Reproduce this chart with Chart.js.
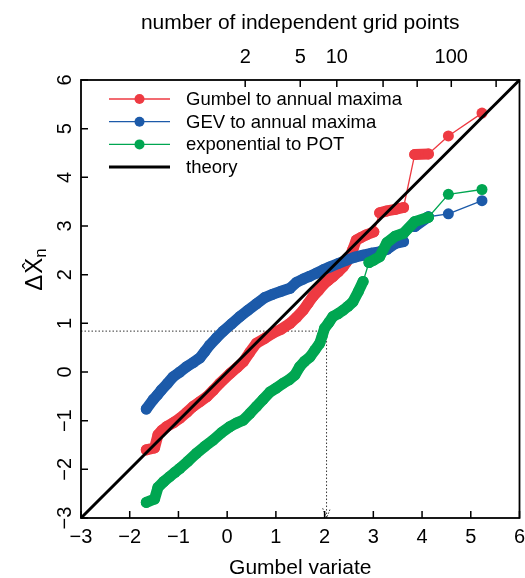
<!DOCTYPE html>
<html>
<head>
<meta charset="utf-8">
<script src="https://cdn.jsdelivr.net/npm/chart.js@4.4.1/dist/chart.umd.min.js"></script>
<style>
  html, body { margin: 0; padding: 0; background: #fff; }
  #wrap { width: 525px; height: 578px; }
</style>
</head>
<body>
<div id="wrap"><canvas id="gumbelPlot" width="525" height="578"></canvas></div>
<script>
const fontFamily = "'Liberation Sans', Arial, Helvetica, sans-serif";

// Gumbel to annual maxima (red)
const gumbelX = [-1.66, -1.49, -1.42, -1.34, -1.24, -1.10, -0.97, -0.83, -0.70, -0.56, -0.42, -0.28, -0.15, 0.06, 0.20, 0.33, 0.46, 0.60, 0.77, 0.94, 1.11, 1.29, 1.42, 1.56, 1.66, 1.76, 1.87, 1.97, 2.07, 2.17, 2.28, 2.38, 2.45, 2.52, 2.58, 2.65, 2.76, 2.86, 3.01, 3.13, 3.28, 3.45, 3.62, 3.85, 4.13, 4.54, 5.23];
const gumbelY = [-1.60, -1.56, -1.29, -1.20, -1.12, -1.04, -0.95, -0.83, -0.71, -0.61, -0.51, -0.37, -0.23, -0.03, 0.09, 0.21, 0.40, 0.59, 0.69, 0.80, 0.88, 1.00, 1.12, 1.27, 1.41, 1.55, 1.67, 1.79, 1.88, 1.96, 2.06, 2.16, 2.26, 2.37, 2.52, 2.71, 2.77, 2.82, 2.88, 3.27, 3.31, 3.34, 3.38, 4.47, 4.48, 4.85, 5.32];

// GEV to annual maxima (blue)
const gevX = [-1.66, -1.52, -1.43, -1.35, -1.23, -1.11, -0.97, -0.83, -0.69, -0.56, -0.46, -0.36, -0.22, -0.08, 0.09, 0.26, 0.43, 0.60, 0.77, 0.94, 1.11, 1.29, 1.42, 1.56, 1.70, 1.83, 1.97, 2.11, 2.28, 2.45, 2.62, 2.79, 2.96, 3.13, 3.28, 3.45, 3.62, 3.85, 4.13, 4.54, 5.23];
const gevY = [-0.76, -0.57, -0.47, -0.37, -0.24, -0.10, 0.00, 0.11, 0.20, 0.29, 0.42, 0.55, 0.70, 0.84, 0.99, 1.14, 1.27, 1.40, 1.53, 1.60, 1.66, 1.72, 1.84, 1.91, 1.97, 2.03, 2.10, 2.16, 2.23, 2.30, 2.36, 2.40, 2.44, 2.47, 2.52, 2.64, 2.68, 2.99, 3.19, 3.25, 3.52];

// exponential to POT (green)
const expX = [-1.66, -1.49, -1.42, -1.30, -1.18, -1.07, -0.97, -0.80, -0.63, -0.46, -0.29, -0.12, 0.06, 0.19, 0.33, 0.47, 0.60, 0.74, 0.88, 1.01, 1.15, 1.27, 1.39, 1.49, 1.59, 1.70, 1.80, 1.90, 1.95, 2.00, 2.09, 2.17, 2.28, 2.38, 2.48, 2.58, 2.69, 2.79, 2.91, 3.01, 3.13, 3.28, 3.45, 3.62, 3.85, 4.13, 4.54, 5.23];
const expY = [-2.68, -2.61, -2.37, -2.25, -2.15, -2.06, -1.98, -1.83, -1.67, -1.53, -1.40, -1.25, -1.12, -1.05, -0.99, -0.85, -0.71, -0.56, -0.41, -0.33, -0.23, -0.16, -0.06, 0.11, 0.22, 0.31, 0.45, 0.59, 0.74, 0.90, 1.02, 1.14, 1.20, 1.27, 1.35, 1.44, 1.65, 1.86, 2.25, 2.30, 2.37, 2.66, 2.79, 2.85, 3.09, 3.18, 3.65, 3.75];

const theoryX = [-3, 6];
const theoryY = [-3, 6];

const axisTicks = [-3, -2, -1, 0, 1, 2, 3, 4, 5, 6];
// top axis: grid point counts placed on the Gumbel scale
const topTickPos = [0.37, 1.50, 2.25, 3.20, 3.90, 4.60, 5.52];
const topTickLabels = ["2", "5", "10", "", "", "100", ""];

// dotted read-off guide
const guideX = 2.04;
const guideY = 0.84;

const red = "#EE3A42";
const blue = "#1C5AA9";
const green = "#00A651";

const toPoints = (xs, ys) => xs.map((x, i) => ({ x, y: ys[i] }));
const minus = (v) => String(v).replace("-", "\u2212");

// close points merge into one thick band, spread ones get a thin joining line
const beadWidth = (ctx) => {
  const d = Math.hypot(ctx.p1.x - ctx.p0.x, ctx.p1.y - ctx.p0.y);
  return d < 18 ? 11 : 1.3;
};

const beads = (label, xs, ys, color, order) => ({
  label,
  data: toPoints(xs, ys),
  showLine: true,
  borderColor: color,
  backgroundColor: color,
  borderWidth: 1.3,
  borderCapStyle: "round",
  borderJoinStyle: "round",
  pointRadius: 5.5,
  pointBorderWidth: 0,
  pointBackgroundColor: color,
  segment: { borderWidth: beadWidth },
  order,
});

// keep the plot box fixed, labels may hang over the edges
const fixX = (h) => (s) => {
  s.height = h;
  s.paddingLeft = 0;
  s.paddingRight = 0;
};

const frame = {
  id: "frame",
  beforeDraw(chart) {
    const { ctx } = chart;
    ctx.save();
    ctx.fillStyle = "#fff";
    ctx.fillRect(0, 0, chart.width, chart.height);
    ctx.restore();
  },
  afterDraw(chart) {
    const { ctx, chartArea: a, scales } = chart;
    ctx.save();
    ctx.strokeStyle = "#000";
    ctx.lineWidth = 1.8;
    ctx.strokeRect(a.left, a.top, a.right - a.left, a.bottom - a.top);

    // inward tick marks
    ctx.lineWidth = 1.5;
    ctx.beginPath();
    axisTicks.forEach((v) => {
      const px = scales.x.getPixelForValue(v);
      ctx.moveTo(px, a.bottom);
      ctx.lineTo(px, a.bottom - 7);
      const py = scales.y.getPixelForValue(v);
      ctx.moveTo(a.left, py);
      ctx.lineTo(a.left + 7, py);
    });
    topTickPos.forEach((v) => {
      const px = scales.x2.getPixelForValue(v);
      ctx.moveTo(px, a.top);
      ctx.lineTo(px, a.top + 7);
    });
    ctx.stroke();

    // rotated y tick labels
    ctx.fillStyle = "#000";
    ctx.font = `20px ${fontFamily}`;
    ctx.textAlign = "center";
    ctx.textBaseline = "middle";
    axisTicks.forEach((v) => {
      const py = scales.y.getPixelForValue(v);
      ctx.save();
      ctx.translate(65.5, py);
      ctx.rotate(-Math.PI / 2);
      ctx.fillText(minus(v), 0, 0);
      ctx.restore();
    });

    // y title: delta X-hat with subscript n
    ctx.save();
    ctx.translate(42, 270);
    ctx.rotate(-Math.PI / 2);
    ctx.textAlign = "left";
    ctx.textBaseline = "alphabetic";
    ctx.font = `24px ${fontFamily}`;
    const wD = ctx.measureText("\u0394").width;
    const wX = ctx.measureText("X").width;
    ctx.font = `17px ${fontFamily}`;
    const wN = ctx.measureText("n").width;
    let x0 = -(wD + wX + wN) / 2;
    ctx.font = `24px ${fontFamily}`;
    ctx.fillText("\u0394", x0, 0);
    ctx.fillText("X", x0 + wD + 1, 0);
    ctx.textAlign = "center";
    ctx.font = `21px ${fontFamily}`;
    ctx.fillText("\u02C6", x0 + wD + 1 + wX / 2, -5);
    ctx.textAlign = "left";
    ctx.font = `17px ${fontFamily}`;
    ctx.fillText("n", x0 + wD + wX + 1, 4);
    ctx.restore();

    // legend inside the plot
    ctx.font = `18.5px ${fontFamily}`;
    ctx.textAlign = "left";
    ctx.textBaseline = "middle";
    const rows = chart.data.datasets.filter((d) => d.label);
    rows.forEach((d, i) => {
      const y = 99 + i * 22.7;
      ctx.strokeStyle = d.borderColor;
      ctx.lineWidth = d.pointRadius ? 1.3 : d.borderWidth;
      ctx.beginPath();
      ctx.moveTo(109, y);
      ctx.lineTo(170, y);
      ctx.stroke();
      if (d.pointRadius) {
        ctx.fillStyle = d.pointBackgroundColor;
        ctx.beginPath();
        ctx.arc(139.5, y, 5, 0, Math.PI * 2);
        ctx.fill();
      }
      ctx.fillStyle = "#000";
      ctx.fillText(d.label, 186, y + 1);
    });
    ctx.restore();
  },
};

const config = {
  type: "scatter",
  data: {
    datasets: [
      beads("Gumbel to annual maxima", gumbelX, gumbelY, red, 3),
      beads("GEV to annual maxima", gevX, gevY, blue, 2),
      beads("exponential to POT", expX, expY, green, 1),
      {
        label: "theory",
        data: toPoints(theoryX, theoryY),
        showLine: true,
        borderColor: "#000",
        borderWidth: 3,
        pointRadius: 0,
        clip: false,
        order: 0,
      },
      {
        data: [
          { x: -3, y: guideY },
          { x: guideX, y: guideY },
          { x: guideX, y: -3 },
        ],
        showLine: true,
        borderColor: "#333",
        borderWidth: 1,
        borderDash: [1.5, 2],
        pointRadius: 0,
        order: 4,
      },
      {
        data: [
          { x: guideX - 0.08, y: -2.8 },
          { x: guideX, y: -3 },
          { x: guideX + 0.08, y: -2.8 },
        ],
        showLine: true,
        borderColor: "#333",
        borderWidth: 1,
        borderDash: [1.5, 1.5],
        pointRadius: 0,
        order: 4,
      },
    ],
  },
  options: {
    responsive: false,
    devicePixelRatio: 1,
    animation: false,
    events: [],
    layout: { padding: { left: 0, right: 5, top: 0, bottom: 0 } },
    plugins: { legend: { display: false }, tooltip: { enabled: false } },
    scales: {
      x: {
        type: "linear",
        position: "bottom",
        min: -3,
        max: 6,
        afterBuildTicks: (s) => { s.ticks = axisTicks.map((v) => ({ value: v })); },
        ticks: {
          autoSkip: false,
          maxRotation: 0,
          padding: 7,
          color: "#000",
          font: { size: 20, family: fontFamily },
          callback: (v) => minus(v),
        },
        grid: { display: false, drawTicks: false },
        border: { display: false },
        title: {
          display: true,
          text: "Gumbel variate",
          color: "#000",
          font: { size: 21, family: fontFamily, lineHeight: 0.9 },
          padding: { top: 0, bottom: 0 },
        },
        afterFit: fixX(60),
      },
      x2: {
        type: "linear",
        position: "top",
        min: -3,
        max: 6,
        afterBuildTicks: (s) => { s.ticks = topTickPos.map((v) => ({ value: v })); },
        ticks: {
          autoSkip: false,
          maxRotation: 0,
          padding: 11,
          color: "#000",
          font: { size: 20, family: fontFamily },
          callback: (v, i) => topTickLabels[i],
        },
        grid: { display: false, drawTicks: false },
        border: { display: false },
        title: {
          display: true,
          text: "number of independent grid points",
          color: "#000",
          font: { size: 21, family: fontFamily, lineHeight: 1 },
          padding: { top: 13, bottom: 0 },
        },
        afterFit: fixX(80),
      },
      y: {
        type: "linear",
        position: "left",
        min: -3,
        max: 6,
        afterBuildTicks: (s) => { s.ticks = axisTicks.map((v) => ({ value: v })); },
        ticks: { display: false },
        grid: { display: false, drawTicks: false },
        border: { display: false },
        afterFit: (s) => { s.width = 81; },
      },
    },
  },
  plugins: [frame],
};

new Chart(document.getElementById("gumbelPlot"), config);
</script>
</body>
</html>
